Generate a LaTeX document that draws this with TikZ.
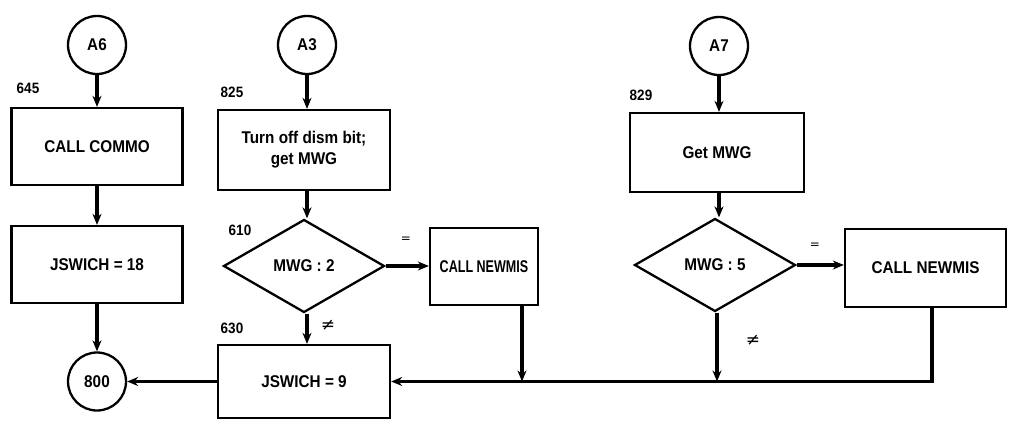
\documentclass[tikz,border=0pt]{standalone}
\usepackage{fontspec}
\setmainfont{Liberation Sans}[FakeStretch=0.9]
\newfontfamily\symf{DejaVu Sans}
\usetikzlibrary{shapes.geometric,arrows.meta}
\begin{document}
\begin{tikzpicture}[x=1pt,y=-1pt,
  every node/.style={font=\fontsize{17}{21}\selectfont\bfseries},
  conn/.style={draw,circle,line width=2.3pt,minimum size=58pt,inner sep=0pt},
  proc/.style={draw,rectangle,line width=2.3pt,align=center,inner sep=0pt},
  test/.style={draw,diamond,line width=2.3pt,inner sep=0pt,minimum width=161pt,minimum height=93pt},
  lbl/.style={font=\fontsize{15}{18}\selectfont\bfseries},
  sgn/.style={font=\symf\fontsize{12}{14}\selectfont,inner sep=1pt},
  nsgn/.style={font=\symf\fontsize{17}{20}\selectfont,inner sep=1pt},
  arr/.style={line width=3.2pt,-{Stealth[length=11pt,width=9pt]}}]
\useasboundingbox (0,0) rectangle (1010,421);

% left column
\node[conn] (a6) at (97,45) {A6};
\node[proc,minimum width=171pt,minimum height=77pt] (commo) at (97,146.5) {CALL COMMO};
\node[proc,minimum width=171pt,minimum height=77pt] (js18) at (97,264.5) {JSWICH = 18};
\node[conn] (c800) at (97,381.5) {800};
\node[lbl] (l645) at (28,88) {645};

% middle column
\node[conn] (a3) at (307,45) {A3};
\node[proc,minimum width=172pt,minimum height=80pt] (turn) at (304,150) {Turn off dism bit;\\get MWG};
\node[test] (d1) at (304,266) {MWG : 2};
\node[proc,minimum width=108pt,minimum height=77pt] (nm1) at (484,266.5) {\scalebox{0.82}[1]{CALL NEWMIS}};
\node[proc,minimum width=172pt,minimum height=73pt] (js9) at (304,381.5) {JSWICH = 9};
\node[lbl] (l825) at (232,92) {825};
\node[lbl] (l610) at (240,230) {610};
\node[lbl] (l630) at (232,328) {630};
\node[sgn] (eq1) at (406,240) {=};
\node[nsgn] (ne1) at (328,325) {≠};

% right column
\node[conn] (a7) at (719,46) {A7};
\node[proc,minimum width=174pt,minimum height=79pt] (getm) at (717,152.5) {Get MWG};
\node[test] (d2) at (715,265) {MWG : 5};
\node[proc,minimum width=161pt,minimum height=78pt] (nm2) at (925.5,268) {CALL NEWMIS};
\node[lbl] (l829) at (641,95) {829};
\node[sgn] (eq2) at (815,246) {=};
\node[nsgn] (ne2) at (753,340) {≠};

% junction points on the return line
\coordinate (j1) at (522,381.5);
\coordinate (j2) at (717,381.5);

% connectors
\draw[arr] (a6) -- (commo);
\draw[arr] (commo) -- (js18);
\draw[arr] (js18) -- (c800);
\draw[arr] (a3) -- (turn.north -| a3);
\draw[arr] (turn.south -| a3) -- (d1.north -| a3);
\draw[arr] (d1.east) -- (d1.east -| nm1.west);
\draw[arr] (d1.south -| a3) -- (js9.north -| a3);
\draw[arr] (a7) -- (getm.north -| a7);
\draw[arr] (getm.south -| a7) -- (d2.north -| a7);
\draw[arr] (d2.east) -- (d2.east -| nm2.west);
\draw[arr] (d2.south -| j2) -- (j2);
\draw[arr] (nm1.south -| j1) -- (j1);
\draw[arr] ([xshift=6.5pt]nm2.south) |- (js9.east);
\draw[arr] (js9.west) -- (c800);
\end{tikzpicture}
\end{document}
